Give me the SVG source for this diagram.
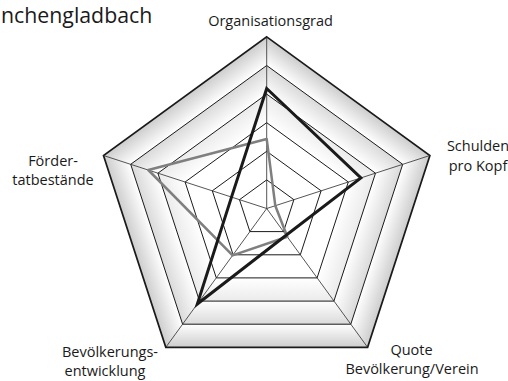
<svg xmlns="http://www.w3.org/2000/svg" xmlns:xlink="http://www.w3.org/1999/xlink" width="508" height="381" viewBox="0 0 508 381">
<style>
.lbl{font-family:"Open Sans","Noto Sans","DejaVu Sans",sans-serif;font-size:14.5px;fill:#1a1a1a;text-anchor:middle}
.title{font-family:"Open Sans","Noto Sans","DejaVu Sans",sans-serif;font-size:21.3px;fill:#1a1a1a}
.ring{fill:none;stroke:#1a1a1a;stroke-width:1;stroke-linejoin:miter}
.outer{stroke-width:1.7}
.axis{stroke:#2a2a2a;stroke-width:0.8}
.s1{fill:none;stroke:#1a1a1a;stroke-width:3;stroke-linejoin:miter}
.s2{fill:none;stroke:#7f7f7f;stroke-width:2.5;stroke-linejoin:round}
</style>
<defs>
<linearGradient id="g6" x1="0" y1="0" x2="0" y2="1"><stop offset="0" stop-color="#ffffff"/><stop offset="1" stop-color="#cdcdcd"/></linearGradient>
<linearGradient id="g5" x1="0" y1="0" x2="0" y2="1"><stop offset="0" stop-color="#ffffff"/><stop offset="1" stop-color="#dadada"/></linearGradient>
<linearGradient id="g4" x1="0" y1="0" x2="0" y2="1"><stop offset="0" stop-color="#ffffff"/><stop offset="1" stop-color="#ebebeb"/></linearGradient>
<g id="face">
<polygon points="182.6,324.2 350.8,324.2 367.6,347.3 165.8,347.3" fill="url(#g6)"/>
<polygon points="199.5,301.1 333.9,301.1 350.8,324.2 182.6,324.2" fill="url(#g5)"/>
<polygon points="216.3,277.9 317.1,277.9 333.9,301.1 199.5,301.1" fill="url(#g4)"/>
</g>
</defs>
<g id="shading">
<use xlink:href="#face"/>
<use xlink:href="#face" transform="rotate(72 266.7 208.5)"/>
<use xlink:href="#face" transform="rotate(144 266.7 208.5)"/>
<use xlink:href="#face" transform="rotate(216 266.7 208.5)"/>
<use xlink:href="#face" transform="rotate(288 266.7 208.5)"/>
</g>
<g id="grid">
<polygon class="ring" points="266.7,179.9 293.9,199.7 283.5,231.6 249.9,231.6 239.5,199.7"/>
<polygon class="ring" points="266.7,151.3 321.1,190.8 300.3,254.8 233.1,254.8 212.3,190.8"/>
<polygon class="ring" points="266.7,122.7 348.3,182.0 317.1,277.9 216.3,277.9 185.1,182.0"/>
<polygon class="ring" points="266.7,94.1 375.5,173.2 333.9,301.1 199.5,301.1 157.9,173.2"/>
<polygon class="ring" points="266.7,65.5 402.7,164.3 350.8,324.2 182.6,324.2 130.7,164.3"/>
<polygon class="ring outer" points="266.7,36.9 429.9,155.5 367.6,347.3 165.8,347.3 103.5,155.5"/>
<line class="axis" x1="266.7" y1="208.5" x2="266.7" y2="36.9"/>
<line class="axis" x1="266.7" y1="208.5" x2="429.9" y2="155.5"/>
<line class="axis" x1="266.7" y1="208.5" x2="367.6" y2="347.3"/>
<line class="axis" x1="266.7" y1="208.5" x2="165.8" y2="347.3"/>
<line class="axis" x1="266.7" y1="208.5" x2="103.5" y2="155.5"/>
</g>
<g id="series">
<polygon class="s2" points="266.7,139.0 275.3,205.7 287.3,236.8 232.6,255.4 148.3,170.0"/>
<polygon class="s1" points="266.7,88.5 360.9,177.9 286.1,235.2 197.3,304.0 231.5,197.1"/>
</g>
<g id="labels">
<text class="title" x="1" y="22.5">nchengladbach</text>
<text class="lbl" x="270.5" y="26">Organisationsgrad</text>
<text class="lbl" x="478" y="150.5">Schulden</text>
<text class="lbl" x="478" y="171">pro Kopf</text>
<text class="lbl" x="53" y="165.5">Förder-</text>
<text class="lbl" x="53" y="185">tatbestände</text>
<text class="lbl" x="110" y="357">Bevölkerungs-</text>
<text class="lbl" x="105" y="376">entwicklung</text>
<text class="lbl" x="411.5" y="354.5">Quote</text>
<text class="lbl" x="412" y="374">Bevölkerung/Verein</text>
</g>
</svg>
